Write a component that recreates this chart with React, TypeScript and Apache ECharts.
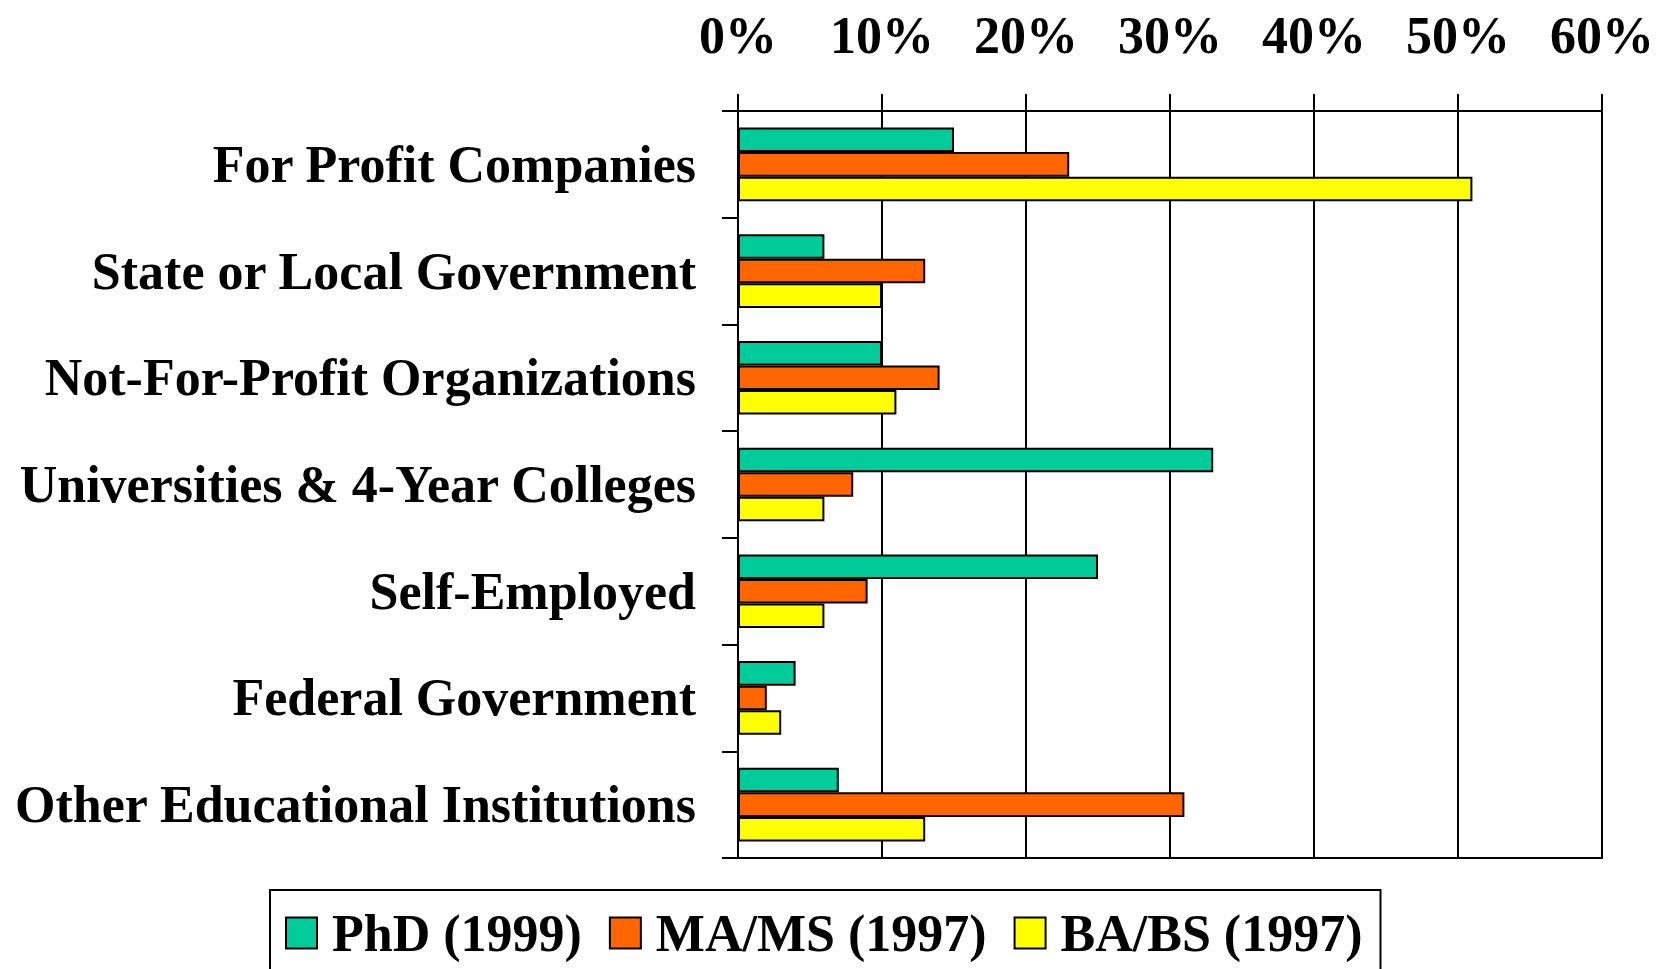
import React, { useEffect, useRef } from "react";
import * as echarts from "echarts";

const categories = [
  "For Profit Companies",
  "State or Local Government",
  "Not-For-Profit Organizations",
  "Universities & 4-Year Colleges",
  "Self-Employed",
  "Federal Government",
  "Other Educational Institutions",
];
const phd1999 = [15, 6, 10, 33, 25, 4, 7];
const mams1997 = [23, 13, 14, 8, 9, 2, 31];
const babs1997 = [51, 10, 11, 6, 6, 3, 13];
const seriesNames = ["PhD (1999)", "MA/MS (1997)", "BA/BS (1997)"];
const seriesColors = ["#00CC99", "#FF6600", "#FFFF00"];
const xTicks = { min: 0, max: 60, interval: 10 };

const FONT = '"Times New Roman", "Liberation Serif", serif';

export default function App() {
  const ref = useRef<HTMLDivElement>(null);
  useEffect(() => {
    if (!ref.current) return;
    const chart = echarts.init(ref.current, undefined, { renderer: "svg" });
    const values = [phd1999, mams1997, babs1997];
    chart.setOption({
      animation: false,
      backgroundColor: "#ffffff",
      grid: {
        left: 738,
        right: 65,
        top: 111,
        bottom: 111,
        show: true,
        borderColor: "#000",
        borderWidth: 2,
        backgroundColor: "transparent",
      },
      xAxis: {
        type: "value",
        position: "top",
        min: xTicks.min,
        max: xTicks.max,
        interval: xTicks.interval,
        axisLine: { show: true, lineStyle: { color: "#000", width: 2 } },
        axisTick: { show: true, length: 17, inside: false, lineStyle: { color: "#000", width: 2 } },
        splitLine: { show: true, lineStyle: { color: "#000", width: 2 } },
        axisLabel: {
          formatter: "{value}%",
          color: "#000",
          fontFamily: FONT,
          fontWeight: "bold",
          fontSize: 52,
          margin: 50,
        },
      },
      yAxis: {
        type: "category",
        inverse: true,
        data: categories,
        axisLine: { show: true, lineStyle: { color: "#000", width: 2 } },
        axisTick: { show: true, length: 16, inside: false, lineStyle: { color: "#000", width: 2 } },
        axisLabel: {
          color: "#000",
          fontFamily: FONT,
          fontWeight: "bold",
          fontSize: 52,
          margin: 42,
          padding: [8, 0, 0, 0],
        },
      },
      legend: {
        left: 270,
        top: 890,
        orient: "horizontal",
        padding: [17, 18, 17, 15],
        itemGap: 27,
        itemWidth: 31,
        itemHeight: 31,
        icon: "rect",
        borderColor: "#000",
        borderWidth: 2,
        backgroundColor: "#fff",
        itemStyle: { borderColor: "#000", borderWidth: 2 },
        textStyle: {
          color: "#000",
          fontFamily: FONT,
          fontWeight: "bold",
          fontSize: 52,
          padding: [0, 0, 0, 10],
        },
        data: seriesNames,
      },
      series: seriesNames.map((name, i) => ({
        name,
        type: "bar",
        data: values[i],
        barGap: "0%",
        barCategoryGap: "31%",
        itemStyle: { color: seriesColors[i], borderColor: "#000", borderWidth: 2 },
      })),
    });
    return () => chart.dispose();
  }, []);
  return (
    <div
      ref={ref}
      style={{ position: "fixed", left: 0, top: 0, width: 1667, height: 969, background: "#fff" }}
    />
  );
}
